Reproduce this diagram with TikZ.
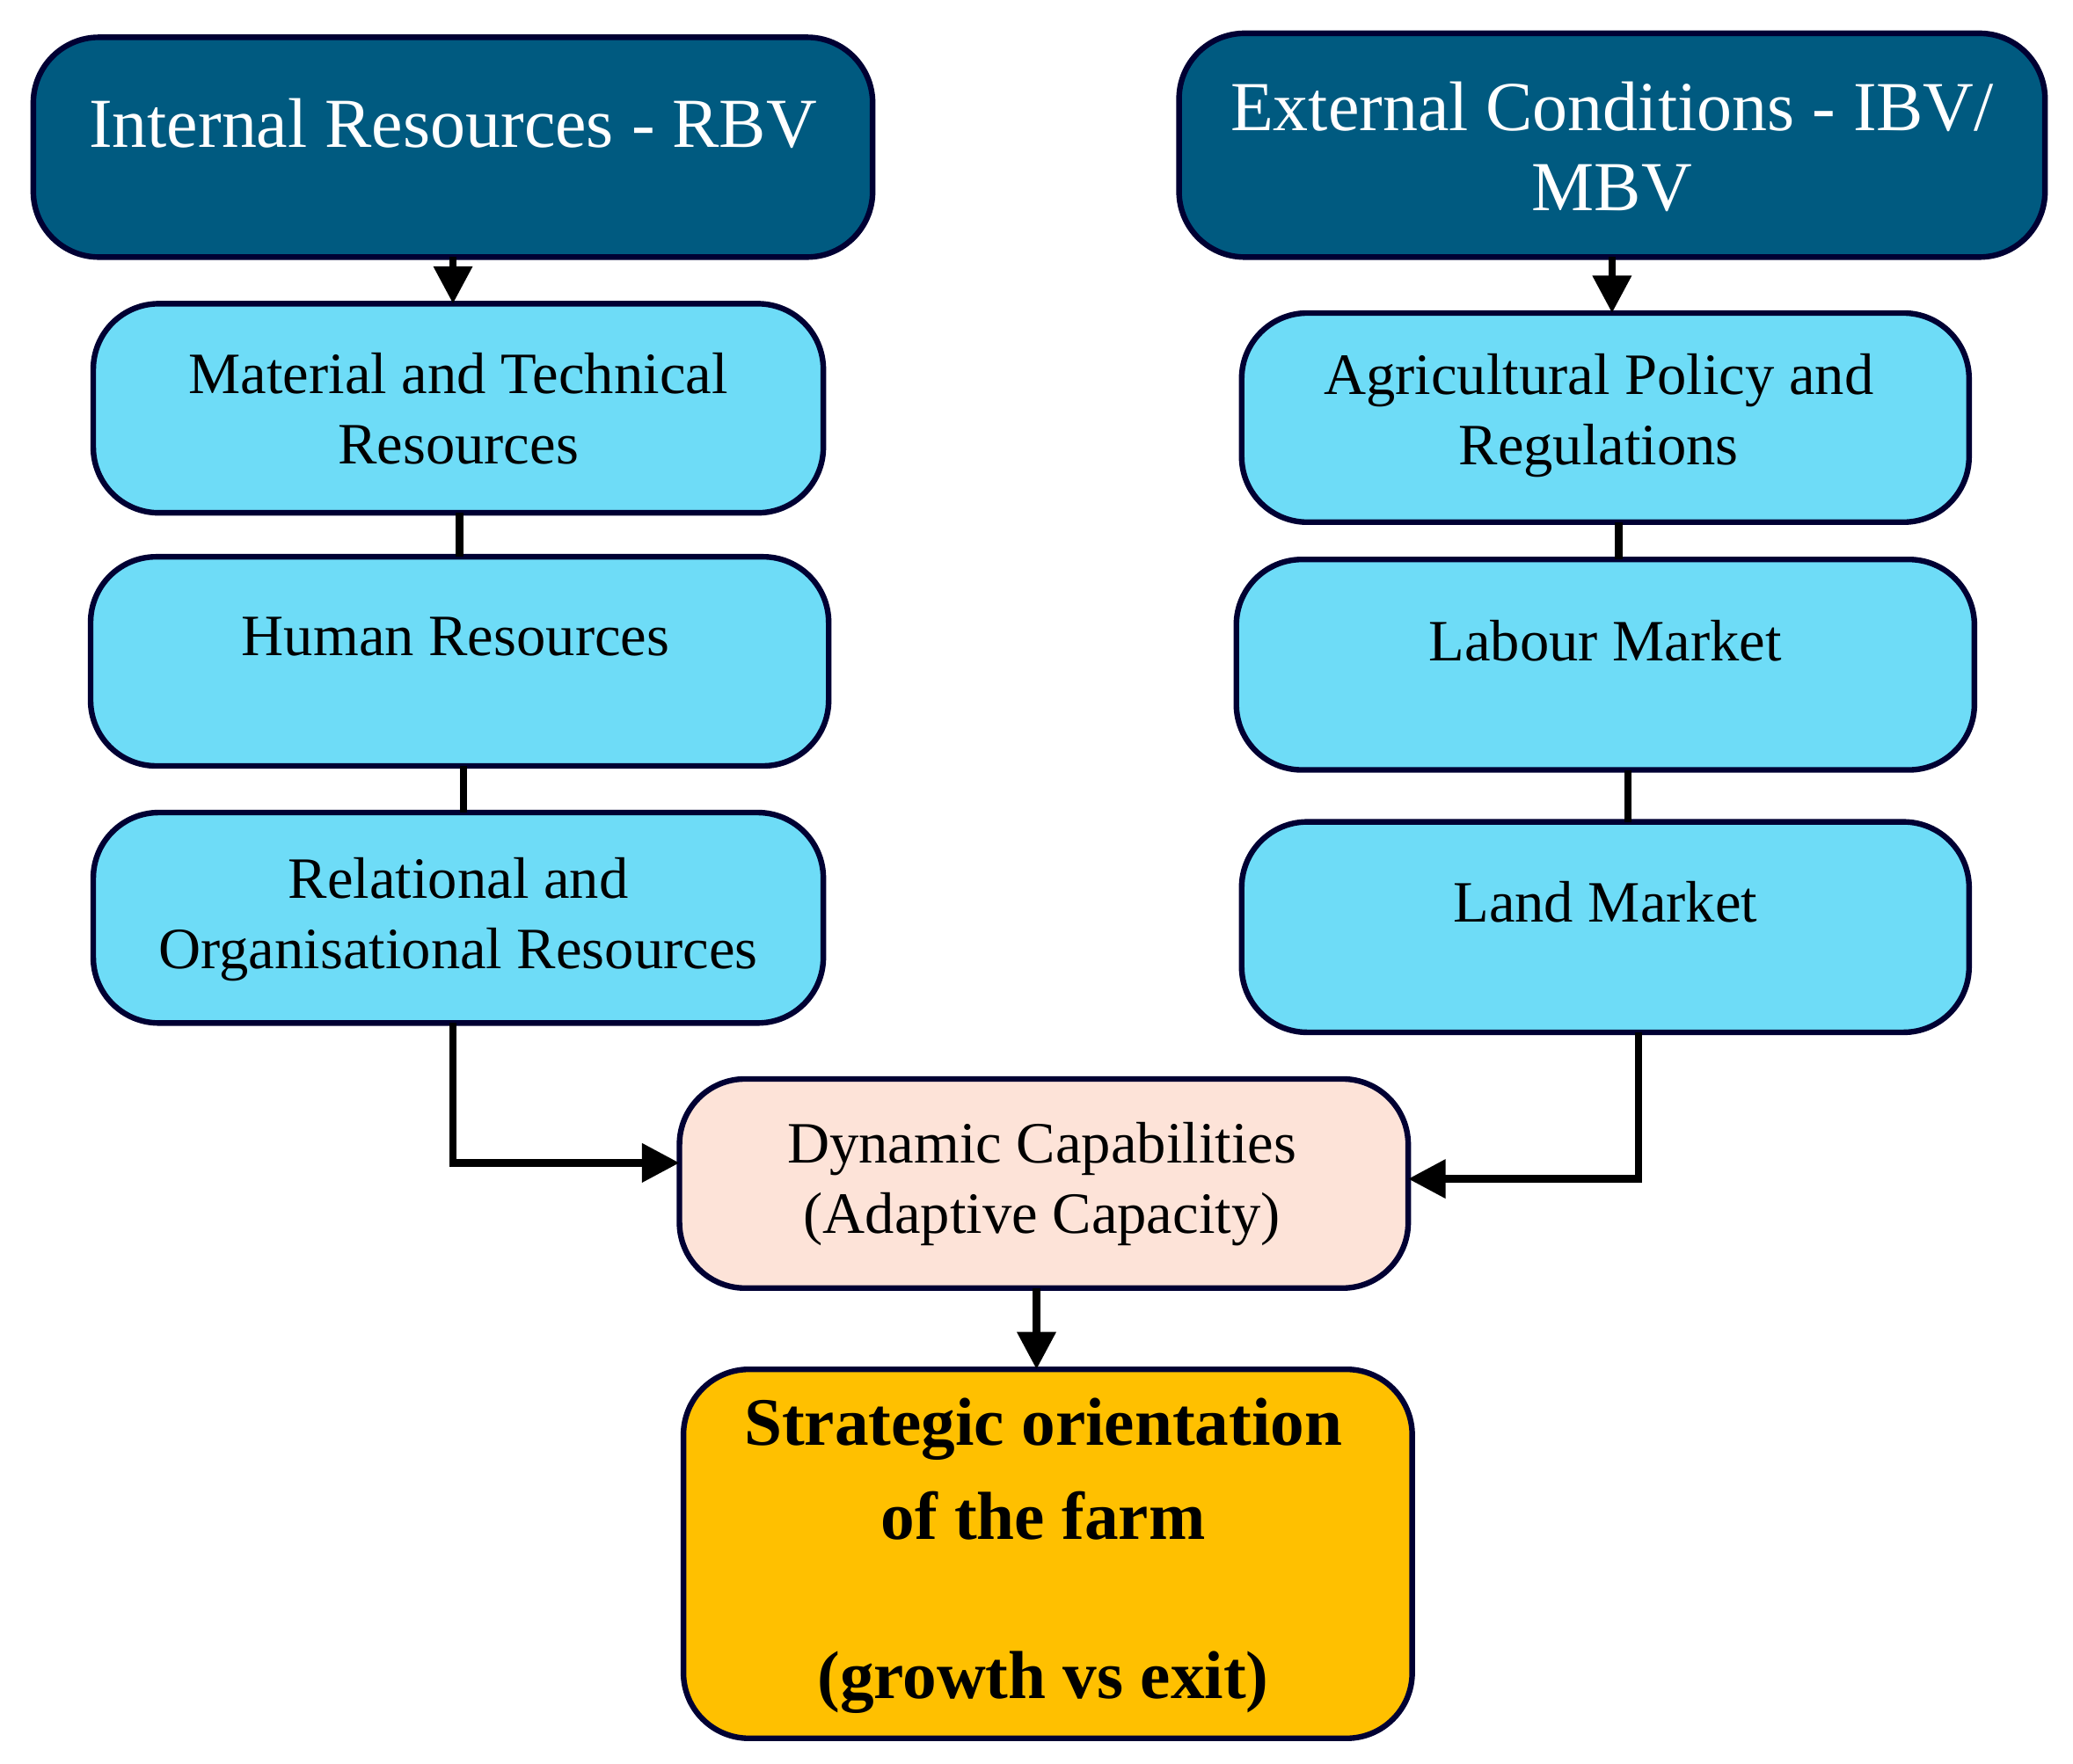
\documentclass[tikz,border=0pt]{standalone}
\usepackage{fontspec}
\setmainfont{Liberation Serif}
\usetikzlibrary{arrows.meta}
\definecolor{dblue}{HTML}{005A80}
\definecolor{lcyan}{HTML}{6EDCF7}
\definecolor{peach}{HTML}{FDE3D8}
\definecolor{gold}{HTML}{FFC000}
\begin{document}
\begin{tikzpicture}[x=0.01cm,y=-0.01cm,
  box/.style={draw=black!80!blue,line width=1.2pt,rounded corners=14pt},
  top/.style={box,fill=dblue},
  res/.style={box,fill=lcyan},
  txt/.style={align=center,font=\fontsize{12.5}{15}\selectfont},
  conn/.style={line width=1.6pt},
  arr/.style={conn,-{Triangle[length=8pt,width=8pt]}}]
\useasboundingbox (0,0) rectangle (1556,1324);
\path[top] (25,28) rectangle (655,193); \node[txt,text=white,font=\fontsize{15}{17}\selectfont] (ir) at (340,93) {Internal Resources - RBV};
\coordinate (irb) at (340,193);
\path[top] (885,25) rectangle (1535,193); \node[txt,text=white,font=\fontsize{15}{17}\selectfont] (er) at (1210,110) {External Conditions - IBV/\\MBV};
\coordinate (erb) at (1210,193);
\path[res] (70,228) rectangle (618,385); \node[txt] (mt) at (344,307) {Material and Technical\\Resources};
\path[res] (68,418) rectangle (622,575); \node[txt] (hr) at (342,478) {Human Resources};
\path[res] (70,610) rectangle (618,768); \node[txt] (ro) at (344,690) {Relational and\\Organisational Resources};
\path[res] (932,235) rectangle (1478,392); \node[txt] (ap) at (1200,312) {Agricultural Policy and\\Regulations};
\path[res] (928,420) rectangle (1482,578); \node[txt] (lm) at (1205,481) {Labour Market};
\path[res] (932,617) rectangle (1478,775); \node[txt] (ld) at (1205,677) {Land Market};
\path[box,fill=peach] (510,810) rectangle (1057,967); \node[txt] (dc) at (782,889) {Dynamic Capabilities\\(Adaptive Capacity)};
\path[box,fill=gold] (513,1028) rectangle (1060,1305); \node[txt,font=\bfseries\fontsize{14.5}{20}\selectfont] (so) at (783,1168) {Strategic orientation\\of the farm\\[14pt](growth vs exit)};
\coordinate (mtt) at (340,228);
\draw[arr] (irb) -- (mtt);
\coordinate (ert) at (1210,235);
\draw[arr] (erb) -- (ert);
\coordinate (a1) at (345,385); \coordinate (a2) at (345,418);
\draw[conn] (a1) -- (a2);
\coordinate (b1) at (348,575); \coordinate (b2) at (348,610);
\draw[conn] (b1) -- (b2);
\coordinate (c1) at (1215,392); \coordinate (c2) at (1215,420);
\draw[conn] (c1) -- (c2);
\coordinate (d1) at (1222,578); \coordinate (d2) at (1222,617);
\draw[conn] (d1) -- (d2);
\coordinate (rob) at (340,768); \coordinate (dcl) at (510,873);
\draw[arr] (rob) |- (dcl);
\coordinate (ldb) at (1230,775); \coordinate (dcr) at (1057,885);
\draw[arr] (ldb) |- (dcr);
\coordinate (dcb) at (778,967); \coordinate (sot) at (778,1028);
\draw[arr] (dcb) -- (sot);
\end{tikzpicture}
\end{document}
